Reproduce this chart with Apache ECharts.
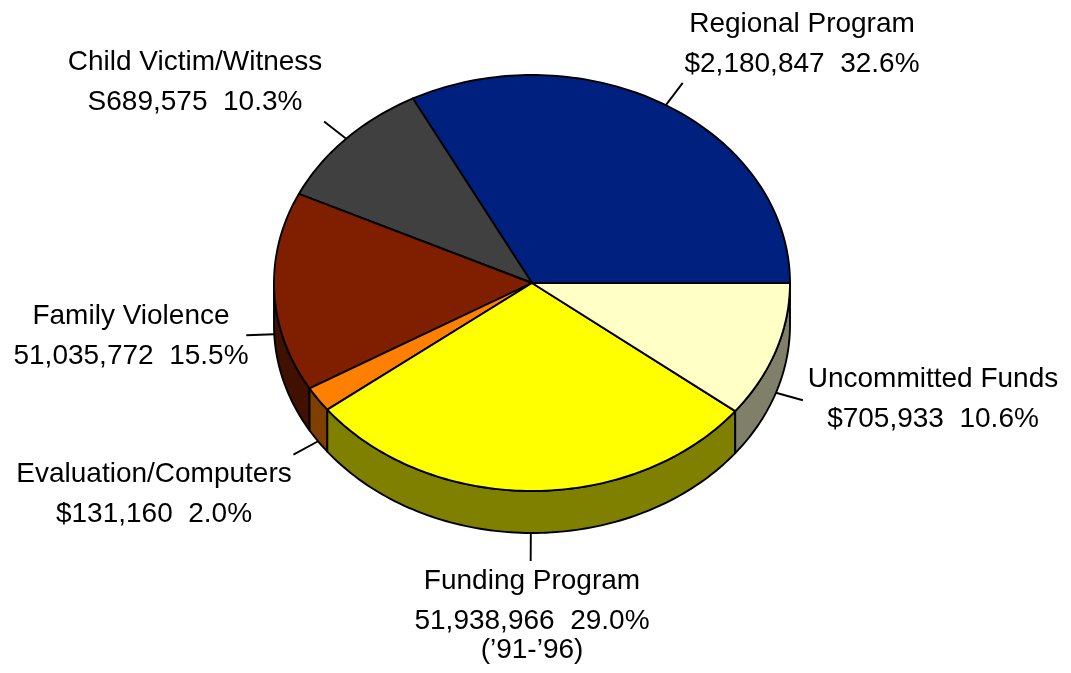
<!DOCTYPE html>
<html>
<head>
<meta charset="utf-8">
<title>Fund allocation</title>
<script src="https://cdn.jsdelivr.net/npm/echarts@6/dist/echarts.min.js"></script>
<style>
  html, body { margin: 0; padding: 0; background: #fff; }
  #chart { width: 1071px; height: 673px; }
</style>
</head>
<body>
<div id="chart"></div>
<script>
// data, counter-clockwise from 3 o'clock
const categories = ['Regional Program', 'Child Victim/Witness', 'Family Violence', 'Evaluation/Computers', 'Funding Program', 'Uncommitted Funds'];
const amounts = [2180847, 689575, 1035772, 131160, 1938966, 705933];
const amountLabels = ['$2,180,847', 'S689,575', '51,035,772', '$131,160', '51,938,966', '$705,933'];
const notes = ['', '', '', '', '(\u201991-\u201996)', ''];

// styles / layout
const topColors = ['#00207f', '#404040', '#801f00', '#ff8000', '#ffff00', '#ffffc6'];
const sideColors = ['#001040', '#202020', '#401000', '#7f3f00', '#808000', '#80806a'];
const labelPos = [[802, 24], [195, 62], [131, 316], [154, 474], [532, 581], [933, 379]];
const CX = 532, CY = 283, RX = 258, RY = 208, DEPTH = 42, LEADER = 28;
const FONT = '28px "Liberation Sans", Arial, sans-serif';
const STROKE = 1.9;

const total = amounts.reduce((a, b) => a + b, 0);

function pt(a, dz) {
  return [CX + RX * Math.cos(a), CY - RY * Math.sin(a) + dz];
}

function arcPoints(a0, a1, dz) {
  const n = Math.max(2, Math.ceil((a1 - a0) / 0.02));
  const pts = [];
  for (let s = 0; s <= n; s++) pts.push(pt(a0 + (a1 - a0) * s / n, dz));
  return pts;
}

function renderItem(params, api) {
  const i = params.dataIndex;
  const v = api.value(0);
  let before = 0;
  for (let k = 0; k < i; k++) before += amounts[k];
  const a0 = before / total * Math.PI * 2;
  const a1 = (before + v) / total * Math.PI * 2;
  const children = [];

  // front wall, only the part facing the viewer
  const s0 = Math.max(a0, Math.PI), s1 = Math.min(a1, Math.PI * 2);
  if (s1 > s0) {
    const up = arcPoints(s0, s1, 0);
    const down = arcPoints(s0, s1, DEPTH).reverse();
    children.push({
      type: 'polygon', z2: 1,
      shape: { points: up.concat(down) },
      style: { fill: sideColors[i], stroke: '#000', lineWidth: STROKE, lineJoin: 'round' }
    });
  }

  // top face
  children.push({
    type: 'polygon', z2: 2,
    shape: { points: [[CX, CY]].concat(arcPoints(a0, a1, 0)) },
    style: { fill: topColors[i], stroke: '#000', lineWidth: STROKE, lineJoin: 'round' }
  });

  // leader line
  const mid = (a0 + a1) / 2;
  const p = pt(mid, Math.sin(mid) < 0 ? DEPTH : 0);
  const dx = RX * Math.cos(mid), dy = -RY * Math.sin(mid);
  const len = Math.hypot(dx, dy);
  children.push({
    type: 'line', z2: 3,
    shape: { x1: p[0], y1: p[1], x2: p[0] + dx / len * LEADER, y2: p[1] + dy / len * LEADER },
    style: { stroke: '#000', lineWidth: STROKE }
  });

  // label
  const pct = (v / total * 100).toFixed(1);
  const lines = [categories[i], amountLabels[i] + '  ' + pct + '%'];
  const offsets = [0, 40];
  if (notes[i]) { lines.push(notes[i]); offsets.push(69); }
  lines.forEach((t, j) => {
    children.push({
      type: 'text', z2: 4,
      x: labelPos[i][0], y: labelPos[i][1] + offsets[j],
      style: { text: t, font: FONT, fill: '#000', align: 'center', verticalAlign: 'middle' }
    });
  });

  return { type: 'group', children: children };
}

const chart = echarts.init(document.getElementById('chart'));
chart.setOption({
  backgroundColor: '#fff',
  animation: false,
  series: [{
    type: 'custom',
    coordinateSystem: 'none',
    renderItem: renderItem,
    data: amounts.map((v, i) => ({ name: categories[i], value: [v] }))
  }]
});
</script>
</body>
</html>
